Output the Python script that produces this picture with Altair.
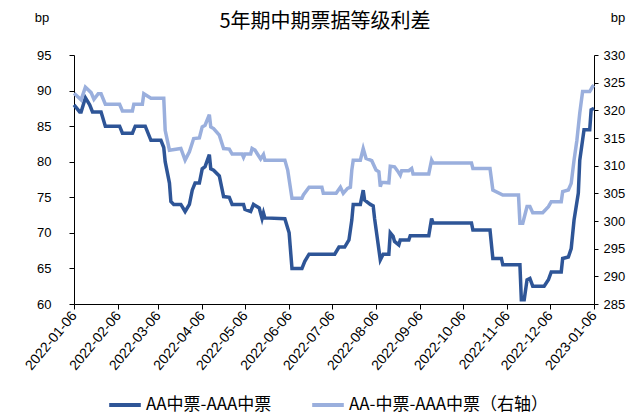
import altair as alt
import pandas as pd

# ---------------- data ----------------
aa_dates = [
    "2022-01-06", "2022-01-10", "2022-01-11", "2022-01-14", "2022-01-17", "2022-01-19", "2022-01-25",
    "2022-01-28", "2022-02-07", "2022-02-09", "2022-02-16", "2022-02-18", "2022-02-25", "2022-03-01",
    "2022-03-08", "2022-03-10", "2022-03-11", "2022-03-14", "2022-03-15", "2022-03-17", "2022-03-22",
    "2022-03-25", "2022-03-28", "2022-03-30", "2022-04-01", "2022-04-04", "2022-04-06", "2022-04-08",
    "2022-04-11", "2022-04-12", "2022-04-14", "2022-04-18", "2022-04-21", "2022-04-25", "2022-04-27",
    "2022-05-05", "2022-05-06", "2022-05-10", "2022-05-12", "2022-05-16", "2022-05-18", "2022-05-19",
    "2022-05-20", "2022-06-03", "2022-06-06", "2022-06-08", "2022-06-15", "2022-06-17", "2022-06-20",
    "2022-07-08", "2022-07-11", "2022-07-15", "2022-07-18", "2022-07-20", "2022-07-21", "2022-07-26",
    "2022-07-28", "2022-07-29", "2022-08-02", "2022-08-04", "2022-08-05", "2022-08-09", "2022-08-11",
    "2022-08-15", "2022-08-16", "2022-08-18", "2022-08-19", "2022-08-22", "2022-08-23", "2022-08-29",
    "2022-08-30", "2022-09-12", "2022-09-14", "2022-09-15", "2022-10-12", "2022-10-13", "2022-10-25",
    "2022-10-27", "2022-11-02", "2022-11-03", "2022-11-15", "2022-11-16", "2022-11-18", "2022-11-20",
    "2022-11-22", "2022-11-24", "2022-12-02", "2022-12-05", "2022-12-07", "2022-12-14", "2022-12-15",
    "2022-12-19", "2022-12-21", "2022-12-23", "2022-12-26", "2022-12-27", "2022-12-30", "2023-01-03",
    "2023-01-04", "2023-01-06",
]
aa_values = [
    88, 87, 87, 89, 88, 87, 87,
    85, 85, 84, 84, 85, 85, 83,
    83, 82, 80, 77, 74.4, 74, 74,
    73, 74, 76, 77, 77, 79, 79.3,
    81, 79, 78.8, 78, 75.1, 75, 74,
    74, 73.3, 73, 74, 73.5, 72, 72.8,
    72.1, 72, 70, 65, 65, 66, 67,
    67, 68, 68, 69, 71.8, 74, 74,
    76, 74.6, 74, 73.8, 72, 66.2, 67,
    67, 70, 69.5, 68.8, 68.3, 69, 69,
    69.6, 69.6, 72, 71.4, 71.4, 70.4, 70.4,
    66.4, 66.4, 65.5, 65.5, 60.6, 60.6, 63.4,
    63.6, 62.5, 62.5, 63.4, 64.5, 64.5, 66.4,
    66.6, 67.8, 71.8, 75.6, 80.2, 84.5, 84.5,
    87.3, 87.5,
]

aam_dates = [
    "2022-01-06", "2022-01-11", "2022-01-14", "2022-01-18", "2022-01-20", "2022-01-23", "2022-01-25",
    "2022-01-28", "2022-02-07", "2022-02-09", "2022-02-16", "2022-02-17", "2022-02-23", "2022-02-24",
    "2022-03-01", "2022-03-10", "2022-03-11", "2022-03-14", "2022-03-22", "2022-03-25", "2022-03-28",
    "2022-03-31", "2022-04-04", "2022-04-06", "2022-04-08", "2022-04-11", "2022-04-12", "2022-04-14",
    "2022-04-18", "2022-04-21", "2022-04-25", "2022-04-27", "2022-05-04", "2022-05-05", "2022-05-06",
    "2022-05-10", "2022-05-11", "2022-05-13", "2022-05-17", "2022-05-19", "2022-05-20", "2022-06-03",
    "2022-06-05", "2022-06-08", "2022-06-15", "2022-06-16", "2022-06-20", "2022-06-29", "2022-06-30",
    "2022-07-09", "2022-07-12", "2022-07-14", "2022-07-17", "2022-07-19", "2022-07-20", "2022-07-21",
    "2022-07-26", "2022-07-28", "2022-07-30", "2022-08-03", "2022-08-06", "2022-08-08", "2022-08-09",
    "2022-08-10", "2022-08-15", "2022-08-16", "2022-08-19", "2022-08-21", "2022-08-23", "2022-08-24",
    "2022-08-29", "2022-08-31", "2022-09-01", "2022-09-12", "2022-09-14", "2022-09-15", "2022-10-12",
    "2022-10-13", "2022-10-25", "2022-10-27", "2022-11-03", "2022-11-14", "2022-11-15", "2022-11-17",
    "2022-11-20", "2022-11-22", "2022-11-24", "2022-12-01", "2022-12-05", "2022-12-07", "2022-12-14",
    "2022-12-15", "2022-12-19", "2022-12-21", "2022-12-23", "2022-12-25", "2022-12-27", "2022-12-29",
    "2023-01-03", "2023-01-05", "2023-01-06",
]
aam_values = [
    323.1, 321.9, 324.2, 323.2, 322, 323, 323,
    321.1, 321.1, 319.9, 319.9, 321.1, 321.1, 323,
    322.2, 322.2, 316.4, 312.8, 313.1, 311, 312.5,
    314.9, 315, 317, 317.3, 319.2, 317, 316.7,
    315.5, 313.1, 313, 312.1, 312.1, 311.5, 312.1,
    312.1, 313.1, 312.8, 311.2, 312, 311, 311,
    309.2, 304.1, 304.1, 304.7, 306.1, 306.1, 305,
    305, 306.1, 305, 305.9, 306.1, 309.2, 311,
    311, 313.1, 311.3, 310.9, 309.2, 308.9, 306.2,
    307, 306.9, 309.9, 309.8, 309.1, 308.3, 309.1,
    309.1, 309.5, 308.5, 308.5, 311, 310.5, 310.5,
    309.5, 309.5, 305.6, 304.7, 304.7, 299.6, 299.6,
    302.6, 302.6, 301.5, 301.5, 302.6, 303.5, 303.5,
    305.3, 305.6, 306.8, 311, 314.6, 319.5, 323.4,
    323.4, 324.3, 324.5,
]

tick_dates = [
    "2022-01-06", "2022-02-06", "2022-03-06", "2022-04-06", "2022-05-06", "2022-06-06", "2022-07-06",
    "2022-08-06", "2022-09-06", "2022-10-06", "2022-11-06", "2022-12-06", "2023-01-06",
]
left_ticks = [60, 65, 70, 75, 80, 85, 90, 95]
right_ticks = [285, 290, 295, 300, 305, 310, 315, 320, 325, 330]

S1 = "AA中票-AAA中票"
S2 = "AA-中票-AAA中票（右轴）"
TITLE = "5年期中期票据等级利差"
UNIT = "bp"
C1 = "#2E5597"
C2 = "#9AAFDD"

# ---------------- chart ----------------
df1 = pd.DataFrame({"date": aa_dates, "value": aa_values, "series": S1})
df2 = pd.DataFrame({"date": aam_dates, "value": aam_values, "series": S2})


def dt(s):
    y, m, d = map(int, s.split("-"))
    return alt.DateTime(year=y, month=m, date=d, utc=True)


NUM_FONT = "Liberation Sans"
CJK_FONT = "Noto Sans CJK SC"

x_enc = alt.X(
    "date:T",
    timeUnit="utcyearmonthdate",
    scale=alt.Scale(domain=[dt(tick_dates[0]), dt(tick_dates[-1])], nice=False),
    axis=alt.Axis(
        values=[dt(s) for s in tick_dates],
        format="%Y-%m-%d",
        labelAngle=-50,
        labelFont=NUM_FONT,
        labelFontSize=14,
        labelColor="#000",
        labelPadding=4,
        tickSize=5,
        tickColor="#000",
        domainColor="#000",
        grid=False,
        title=None,
        labelOverlap=False,
    ),
)

color_enc = alt.Color(
    "series:N",
    scale=alt.Scale(domain=[S1, S2], range=[C1, C2]),
    legend=alt.Legend(
        title=None,
        orient="none",
        legendX=33,
        legendY=332,
        direction="horizontal",
        symbolType="stroke",
        symbolStrokeWidth=4,
        symbolSize=1000,
        labelFont=CJK_FONT,
        labelFontSize=17,
        labelColor="#000",
        labelOffset=3,
        labelLimit=400,
        columnPadding=32,
    ),
)

left = alt.Chart(df1).mark_line(strokeWidth=3.5).encode(
    x=x_enc,
    y=alt.Y(
        "value:Q",
        scale=alt.Scale(domain=[left_ticks[0], left_ticks[-1]], nice=False, zero=False),
        axis=alt.Axis(
            orient="left",
            values=left_ticks,
            labelFont=NUM_FONT,
            labelFontSize=13,
            labelColor="#000",
            labelPadding=18,
            tickSize=5,
            tickColor="#000",
            domainColor="#000",
            grid=False,
            title=None,
        ),
    ),
    color=color_enc,
)

right = alt.Chart(df2).mark_line(strokeWidth=3.5).encode(
    x=x_enc,
    y=alt.Y(
        "value:Q",
        scale=alt.Scale(domain=[right_ticks[0], right_ticks[-1]], nice=False, zero=False),
        axis=alt.Axis(
            orient="right",
            values=right_ticks,
            labelFont=NUM_FONT,
            labelFontSize=13,
            labelColor="#000",
            labelPadding=5,
            tickSize=4,
            tickColor="#000",
            domainColor="#000",
            grid=False,
            title=None,
        ),
    ),
    color=color_enc,
)

title_layer = alt.Chart(alt.Data(values=[{"t": TITLE}])).mark_text(
    font=CJK_FONT, fontSize=20, color="#000", baseline="middle", align="center"
).encode(x=alt.value(251), y=alt.value(-33), text="t:N")

bp_left = alt.Chart(alt.Data(values=[{"t": UNIT}])).mark_text(
    font=NUM_FONT, fontSize=13, color="#000", baseline="middle", align="center"
).encode(x=alt.value(-32), y=alt.value(-37), text="t:N")

bp_right = alt.Chart(alt.Data(values=[{"t": UNIT}])).mark_text(
    font=NUM_FONT, fontSize=13, color="#000", baseline="middle", align="center"
).encode(x=alt.value(544), y=alt.value(-37), text="t:N")

chart = (
    alt.layer(left, right, title_layer, bp_left, bp_right)
    .resolve_scale(y="independent")
    .properties(
        width=520,
        height=249,
        autosize=alt.AutoSizeParams(type="none"),
        padding={"left": 66, "top": 47, "right": 40, "bottom": 110},
    )
    .configure_view(stroke=None)
)

chart.save("out.html", embed_options={"renderer": "svg", "actions": False})
